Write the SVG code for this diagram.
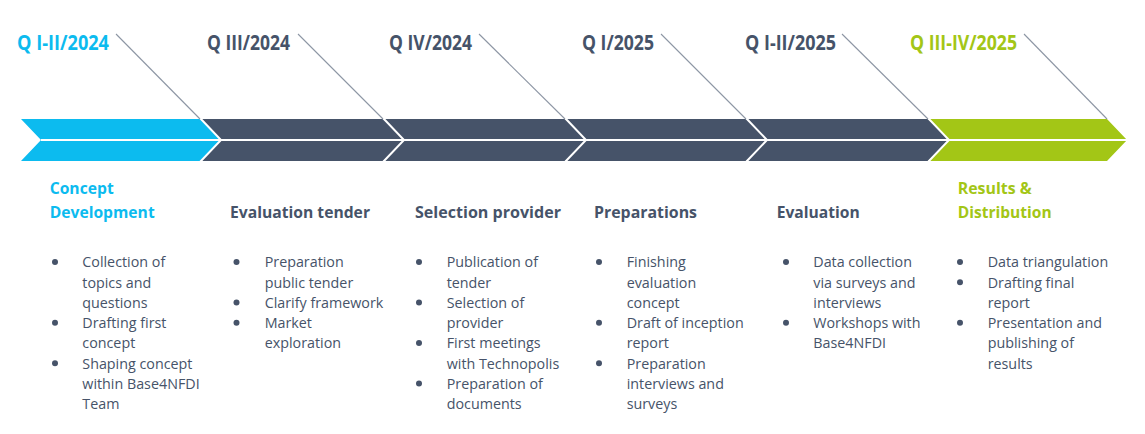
<svg xmlns="http://www.w3.org/2000/svg" width="1145" height="434" viewBox="0 0 1145 434">
<style>
.lbl{font-family:"Open Sans","Noto Sans",sans-serif;font-weight:700;font-size:20.5px}
.hd{font-family:"Open Sans","Noto Sans",sans-serif;font-weight:700;font-size:16.8px}
.bd{font-family:"Open Sans","Noto Sans",sans-serif;font-size:14.3px;fill:#465369}
.dk{fill:#465369}
.cy{fill:#0cbbef}
.gr{fill:#a3c616}
.sep{fill:none;stroke:#ffffff;stroke-width:2}
.lead{stroke:#8d96a4;stroke-width:1.1;fill:none}
</style>
<rect width="1145" height="434" fill="#ffffff"/>
<g id="timeline-band">
<polygon class="cy" points="21,119 200,119 221,140 200,161 21,161 41,140"/>
<polygon class="dk" points="200,119 383,119 404,140 383,161 200,161 221,140"/>
<polygon class="dk" points="383,119 565,119 586,140 565,161 383,161 404,140"/>
<polygon class="dk" points="565,119 746,119 767,140 746,161 565,161 586,140"/>
<polygon class="dk" points="746,119 928,119 949,140 928,161 746,161 767,140"/>
<polygon class="gr" points="928,119 1107,119 1127,140 1107,161 928,161 949,140"/>
<polyline class="sep" points="200,118 221,140 200,162"/>
<polyline class="sep" points="383,118 404,140 383,162"/>
<polyline class="sep" points="565,118 586,140 565,162"/>
<polyline class="sep" points="746,118 767,140 746,162"/>
<polyline class="sep" points="928,118 949,140 928,162"/>
<line x1="41" y1="140" x2="1127" y2="140" stroke="#ffffff" stroke-width="1.8"/>
</g>
<g id="connectors">
<line class="lead" x1="116" y1="34" x2="200" y2="119"/>
<line class="lead" x1="298" y1="34" x2="383" y2="119"/>
<line class="lead" x1="479" y1="34" x2="565" y2="119"/>
<line class="lead" x1="661" y1="34" x2="746" y2="119"/>
<line class="lead" x1="842" y1="34" x2="928" y2="119"/>
<line class="lead" x1="1024" y1="34" x2="1107" y2="119"/>
</g>
<g id="labels">
<text class="lbl cy" x="17" y="49.5" textLength="92" lengthAdjust="spacingAndGlyphs">Q I-II/2024</text>
<text class="lbl dk" x="207" y="49.5" textLength="83" lengthAdjust="spacingAndGlyphs">Q III/2024</text>
<text class="lbl dk" x="389" y="49.5" textLength="83" lengthAdjust="spacingAndGlyphs">Q IV/2024</text>
<text class="lbl dk" x="582" y="49.5" textLength="72" lengthAdjust="spacingAndGlyphs">Q I/2025</text>
<text class="lbl dk" x="745" y="49.5" textLength="91" lengthAdjust="spacingAndGlyphs">Q I-II/2025</text>
<text class="lbl gr" x="910" y="49.5" textLength="107" lengthAdjust="spacingAndGlyphs">Q III-IV/2025</text>
</g>
<g id="phase-concept-development">
<text class="hd cy" x="49.7" y="194" textLength="64" lengthAdjust="spacingAndGlyphs">Concept</text>
<text class="hd cy" x="49.7" y="218" textLength="105" lengthAdjust="spacingAndGlyphs">Development</text>
<circle class="dk" cx="55" cy="262" r="3"/>
<circle class="dk" cx="55" cy="322.7" r="3"/>
<circle class="dk" cx="55" cy="363.2" r="3"/>
<text class="bd"><tspan x="82.3" y="267.3">Collection of</tspan><tspan x="82.3" y="287.55">topics and</tspan><tspan x="82.3" y="307.8">questions</tspan><tspan x="82.3" y="328.05">Drafting first</tspan><tspan x="82.3" y="348.3">concept</tspan><tspan x="82.3" y="368.55">Shaping concept</tspan><tspan x="82.3" y="388.8">within Base4NFDI</tspan><tspan x="82.3" y="409.05">Team</tspan></text>
</g>
<g id="phase-evaluation-tender">
<text class="hd dk" x="230" y="218" textLength="140" lengthAdjust="spacingAndGlyphs">Evaluation tender</text>
<circle class="dk" cx="236.5" cy="262" r="3"/>
<circle class="dk" cx="236.5" cy="302.5" r="3"/>
<circle class="dk" cx="236.5" cy="322.7" r="3"/>
<text class="bd"><tspan x="264.7" y="267.3">Preparation</tspan><tspan x="264.7" y="287.55">public tender</tspan><tspan x="264.7" y="307.8">Clarify framework</tspan><tspan x="264.7" y="328.05">Market</tspan><tspan x="264.7" y="348.3">exploration</tspan></text>
</g>
<g id="phase-selection-provider">
<text class="hd dk" x="415" y="218" textLength="146" lengthAdjust="spacingAndGlyphs">Selection provider</text>
<circle class="dk" cx="419" cy="262" r="3"/>
<circle class="dk" cx="419" cy="302.5" r="3"/>
<circle class="dk" cx="419" cy="343" r="3"/>
<circle class="dk" cx="419" cy="383.5" r="3"/>
<text class="bd"><tspan x="446.7" y="267.3">Publication of</tspan><tspan x="446.7" y="287.55">tender</tspan><tspan x="446.7" y="307.8">Selection of</tspan><tspan x="446.7" y="328.05">provider</tspan><tspan x="446.7" y="348.3">First meetings</tspan><tspan x="446.7" y="368.55">with Technopolis</tspan><tspan x="446.7" y="388.8">Preparation of</tspan><tspan x="446.7" y="409.05">documents</tspan></text>
</g>
<g id="phase-preparations">
<text class="hd dk" x="594" y="218" textLength="103" lengthAdjust="spacingAndGlyphs">Preparations</text>
<circle class="dk" cx="599" cy="262" r="3"/>
<circle class="dk" cx="599" cy="322.7" r="3"/>
<circle class="dk" cx="599" cy="363.2" r="3"/>
<text class="bd"><tspan x="626.7" y="267.3">Finishing</tspan><tspan x="626.7" y="287.55">evaluation</tspan><tspan x="626.7" y="307.8">concept</tspan><tspan x="626.7" y="328.05">Draft of inception</tspan><tspan x="626.7" y="348.3">report</tspan><tspan x="626.7" y="368.55">Preparation</tspan><tspan x="626.7" y="388.8">interviews and</tspan><tspan x="626.7" y="409.05">surveys</tspan></text>
</g>
<g id="phase-evaluation">
<text class="hd dk" x="776.7" y="218" textLength="83" lengthAdjust="spacingAndGlyphs">Evaluation</text>
<circle class="dk" cx="786" cy="262" r="3"/>
<circle class="dk" cx="786" cy="322.7" r="3"/>
<text class="bd"><tspan x="813.3" y="267.3">Data collection</tspan><tspan x="813.3" y="287.55">via surveys and</tspan><tspan x="813.3" y="307.8">interviews</tspan><tspan x="813.3" y="328.05">Workshops with</tspan><tspan x="813.3" y="348.3">Base4NFDI</tspan></text>
</g>
<g id="phase-results-distribution">
<text class="hd gr" x="957.7" y="194" textLength="74" lengthAdjust="spacingAndGlyphs">Results &amp;</text>
<text class="hd gr" x="957.7" y="218" textLength="94" lengthAdjust="spacingAndGlyphs">Distribution</text>
<circle class="dk" cx="960" cy="262" r="3"/>
<circle class="dk" cx="960" cy="282.2" r="3"/>
<circle class="dk" cx="960" cy="322.7" r="3"/>
<text class="bd"><tspan x="987.7" y="267.3">Data triangulation</tspan><tspan x="987.7" y="287.55">Drafting final</tspan><tspan x="987.7" y="307.8">report</tspan><tspan x="987.7" y="328.05">Presentation and</tspan><tspan x="987.7" y="348.3">publishing of</tspan><tspan x="987.7" y="368.55">results</tspan></text>
</g>
</svg>
